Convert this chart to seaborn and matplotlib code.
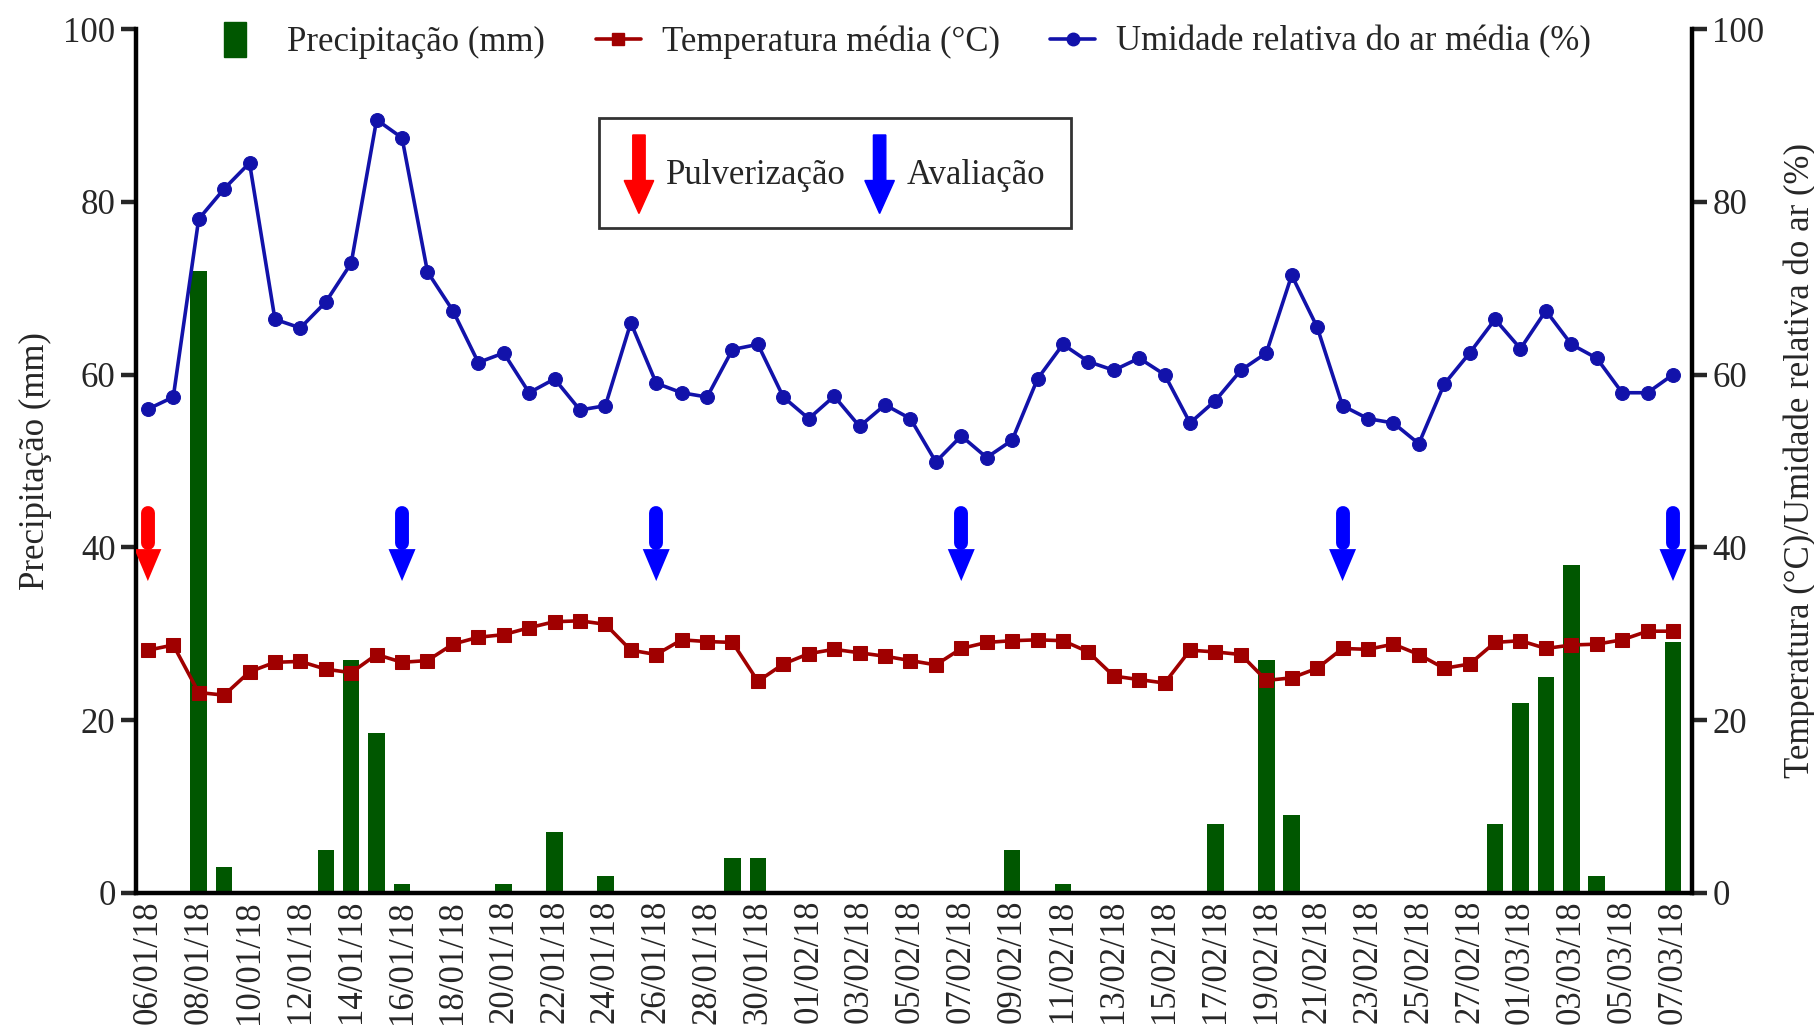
import numpy as np
import pandas as pd
import matplotlib
matplotlib.use("Agg")
import matplotlib.pyplot as plt
import seaborn as sns
from matplotlib.patches import Patch, Polygon, FancyArrow, Rectangle
from matplotlib.lines import Line2D
from matplotlib.legend_handler import HandlerPatch

# ---------------- data ----------------
dates = pd.date_range("2018-01-06", "2018-03-07", freq="D").strftime("%d/%m/%y").tolist()

precipitacao = [0, 0, 72, 3, 0, 0, 0, 5, 27, 18.5,
                1, 0, 0, 0, 1, 0, 7, 0, 2, 0,
                0, 0, 0, 4, 4, 0, 0, 0, 0, 0,
                0, 0, 0, 0, 5, 0, 1, 0, 0, 0,
                0, 0, 8, 0, 27, 9, 0, 0, 0, 0,
                0, 0, 0, 8, 22, 25, 38, 2, 0, 0,
                29]

temperatura = [28.1, 28.7, 23.2, 22.9, 25.6, 26.7, 26.8, 25.9, 25.5, 27.6,
               26.7, 26.9, 28.8, 29.6, 29.9, 30.7, 31.4, 31.5, 31.1, 28.1,
               27.6, 29.3, 29.1, 29.0, 24.5, 26.5, 27.7, 28.2, 27.8, 27.4,
               26.9, 26.4, 28.3, 29.0, 29.2, 29.3, 29.2, 27.9, 25.1, 24.7,
               24.3, 28.1, 27.9, 27.6, 24.6, 24.9, 26.0, 28.3, 28.2, 28.8,
               27.6, 26.0, 26.5, 29.0, 29.2, 28.3, 28.7, 28.8, 29.3, 30.3,
               30.3]

umidade = [56.0, 57.4, 78.0, 81.5, 84.5, 66.4, 65.4, 68.4, 72.9, 89.5,
           87.4, 71.9, 67.4, 61.4, 62.5, 57.9, 59.5, 55.9, 56.4, 66.0,
           59.0, 57.9, 57.4, 62.9, 63.5, 57.4, 54.9, 57.5, 54.0, 56.5,
           54.9, 49.9, 52.9, 50.4, 52.4, 59.5, 63.5, 61.5, 60.5, 61.9,
           60.0, 54.4, 57.0, 60.5, 62.5, 71.5, 65.5, 56.4, 54.9, 54.4,
           52.0, 58.9, 62.5, 66.4, 63.0, 67.4, 63.5, 61.9, 57.9, 57.9,
           60.0]

dias_pulverizacao = ["06/01/18"]
dias_avaliacao = ["16/01/18", "26/01/18", "07/02/18", "22/02/18", "07/03/18"]

yticks = [0, 20, 40, 60, 80, 100]

df = pd.DataFrame({"dia": np.arange(len(dates)), "data": dates,
                   "precip": precipitacao, "temp": temperatura, "umid": umidade})

# ---------------- style ----------------
sns.set_theme(style="white")
plt.rcParams["font.family"] = ["Liberation Serif", "DejaVu Serif"]

GREEN = "#005700"
RED_LINE = "#a00000"
BLUE_LINE = "#1212aa"
RED_ARROW = "#ff0000"
BLUE_ARROW = "#0000ff"

fig = plt.figure(figsize=(18.14, 10.29), dpi=100)
ax = fig.add_axes([0.0752, 0.1322, 0.8573, 0.8396])
ax2 = ax.twinx()

sns.barplot(data=df, x="dia", y="precip", color=GREEN, width=0.65,
            saturation=1, ax=ax, native_scale=True, linewidth=0)
sns.lineplot(data=df, x="dia", y="temp", color=RED_LINE, marker="s",
             markersize=10, markeredgecolor=RED_LINE, lw=2.6, ax=ax2)
sns.lineplot(data=df, x="dia", y="umid", color=BLUE_LINE, marker="o",
             markersize=10, markeredgecolor=BLUE_LINE, lw=2.6, ax=ax2)

# arrows (events)
def draw_arrow(axis, x, color):
    axis.plot([x, x], [44.0, 40.5], color=color, lw=10, solid_capstyle="round", zorder=5)
    axis.add_patch(Polygon([(x - 0.53, 39.8), (x + 0.53, 39.8), (x, 36.1)],
                           closed=True, color=color, lw=0, zorder=5))

for d in dias_pulverizacao:
    draw_arrow(ax2, dates.index(d), RED_ARROW)
for d in dias_avaliacao:
    draw_arrow(ax2, dates.index(d), BLUE_ARROW)

# axes formatting
for a in (ax, ax2):
    a.set_xlim(-0.45, len(dates) - 1 + 0.73)
    a.set_ylim(0, 100)
    a.set_yticks(yticks)
    a.spines["top"].set_visible(False)
    for s in ["left", "right", "bottom"]:
        a.spines[s].set_linewidth(3.2)
        a.spines[s].set_color("black")
    a.grid(False)

ax.spines["right"].set_visible(False)
ax2.spines["left"].set_visible(False)
ax2.spines["bottom"].set_visible(False)

ax.set_xticks(df["dia"][::2].tolist())
ax.set_xticklabels(df["data"][::2].tolist(), rotation=90, fontsize=25)
ax.tick_params(axis="x", length=0, pad=5, labelbottom=True, bottom=True)
ax.tick_params(axis="y", direction="out", length=11, width=3.2, labelsize=25, pad=4, left=True)
ax2.tick_params(axis="y", direction="out", length=11, width=3.2, labelsize=25, pad=4, right=True)
ax.set_yticklabels([str(v) for v in yticks])
ax2.set_yticklabels([str(v) for v in yticks])

ax.set_xlabel("")
ax2.set_xlabel("")
ax.set_ylabel("Precipitação (mm)", fontsize=25, labelpad=8)
ax2.set_ylabel("Temperatura (°C)/Umidade relativa do ar (%)", fontsize=25, labelpad=14)

# main legend
h_precip = Patch(facecolor=GREEN, edgecolor=GREEN)
h_temp = Line2D([], [], color=RED_LINE, marker="s", markersize=9, lw=2.6)
h_umid = Line2D([], [], color=BLUE_LINE, marker="o", markersize=9, lw=2.6)


def bar_patch(legend, orig_handle, xdescent, ydescent, width, height, fontsize):
    w = width * 0.5
    return Rectangle((-xdescent + width * 0.05, -ydescent - height * 0.25), w, height * 1.45)


leg1 = ax2.legend([h_precip, h_temp, h_umid],
                  ["Precipitação (mm)", "Temperatura média (°C)", "Umidade relativa do ar média (%)"],
                  loc="center", bbox_to_anchor=(0.495, 0.985), ncol=3, frameon=False,
                  fontsize=25, handlelength=1.3, handletextpad=0.6, columnspacing=1.45,
                  handler_map={Patch: HandlerPatch(patch_func=bar_patch)})
ax2.add_artist(leg1)

# event legend
def arrow_patch(legend, orig_handle, xdescent, ydescent, width, height, fontsize):
    cx = -xdescent + width / 2
    top = -ydescent + height * 1.15
    bottom = -ydescent - height * 0.2
    return FancyArrow(cx, top, 0, bottom - top, width=width * 0.42, head_width=width,
                      head_length=(top - bottom) * 0.42, length_includes_head=True)


h_pul = Patch(facecolor=RED_ARROW, edgecolor=RED_ARROW)
h_ava = Patch(facecolor=BLUE_ARROW, edgecolor=BLUE_ARROW)
leg2 = ax2.legend([h_pul, h_ava], ["Pulverização", "Avaliação"], loc="upper center",
                  bbox_to_anchor=(0.449, 0.897), ncol=2, frameon=True, fontsize=25,
                  handlelength=0.85, handleheight=2.2, handletextpad=0.35, columnspacing=0.55,
                  borderpad=0.74, borderaxespad=0, fancybox=False,
                  handler_map={Patch: HandlerPatch(patch_func=arrow_patch)})
leg2.get_frame().set_edgecolor("black")
leg2.get_frame().set_linewidth(2)

fig.savefig("out.png", dpi=100, facecolor="white")
